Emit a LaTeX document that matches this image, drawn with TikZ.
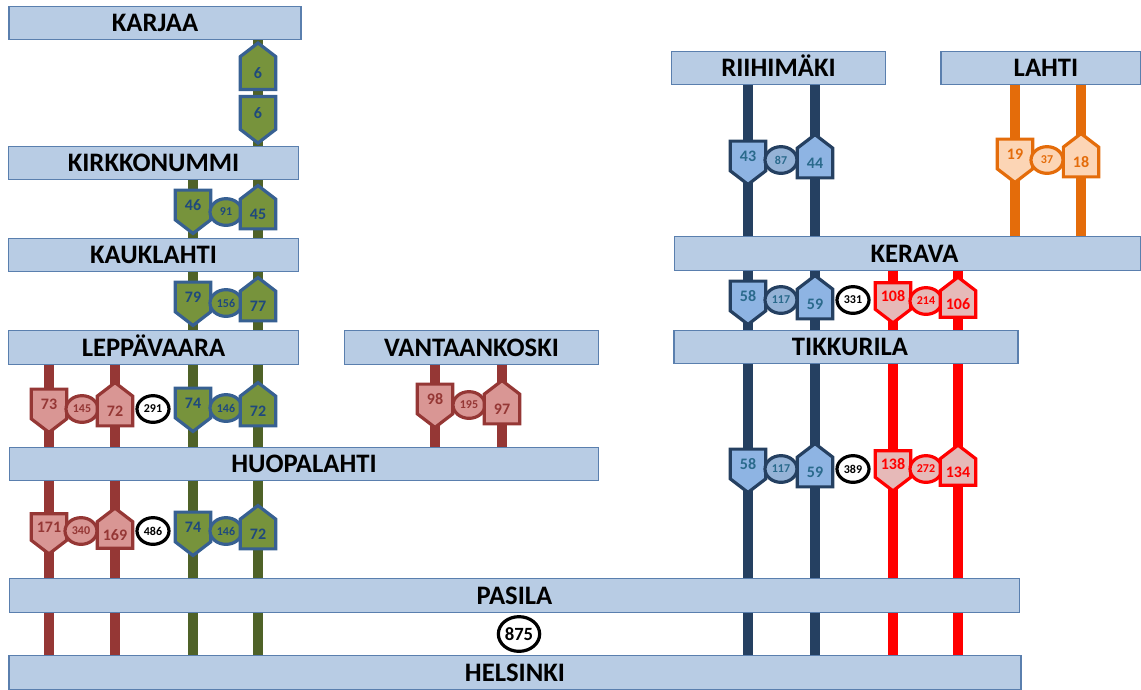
\documentclass[tikz,border=0pt]{standalone}
\usepackage{fontspec}
\setmainfont{Carlito}
\usetikzlibrary{shapes.symbols}
\usetikzlibrary{shapes.geometric}
\definecolor{boxfill}{HTML}{B8CCE4}
\definecolor{boxline}{HTML}{5A7FAE}
\definecolor{greenline}{HTML}{4F6228}
\definecolor{greenfill}{HTML}{77933C}
\definecolor{greenedge}{HTML}{376092}
\definecolor{greentext}{HTML}{1F497D}
\definecolor{wineline}{HTML}{953735}
\definecolor{winefill}{HTML}{D99694}
\definecolor{navyline}{HTML}{254061}
\definecolor{navyfill}{HTML}{8EB4E3}
\definecolor{navycirc}{HTML}{95B3D7}
\definecolor{navytext}{HTML}{2A6A8C}
\definecolor{redfill}{HTML}{E6B9B8}
\definecolor{orangeline}{HTML}{E46C0A}
\definecolor{orangefill}{HTML}{FCD5B5}
\tikzset{
  x=0.75pt, y=-0.75pt,
  station/.style ={draw=boxline,fill=boxfill,line width=0.8pt,inner sep=0,
                   text height=13pt,text depth=0pt,minimum height=25pt,
                   font=\fontsize{20}{20}\selectfont\bfseries},
  track/.style ={line width=7pt,draw=#1},
  downsign/.style ={signal,signal to=south,signal from=nowhere,signal pointer angle=105,
                    inner sep=0,minimum width=26.5pt,minimum height=27pt,line width=2.4pt,
                    font=\fontsize{12}{12}\selectfont\bfseries},
  upsign/.style ={downsign,signal to=north},
  sumcirc/.style ={ellipse,inner sep=0,minimum width=24pt,minimum height=20pt,line width=2.4pt,
                   font=\fontsize{9}{9}\selectfont\bfseries},
  total/.style ={sumcirc,draw=black,fill=white,text=black},
  greenset/.style ={draw=greenedge,fill=greenfill,text=greentext},
  wineset/.style ={draw=wineline,fill=winefill,text=wineline},
  navyset/.style ={draw=navyline,fill=navyfill,text=navytext},
  navyround/.style ={draw=navyline,fill=navycirc,text=navytext},
  redset/.style ={draw=red,fill=redfill,text=red},
  orangeset/.style ={draw=orangeline,fill=orangefill,text=orangeline},
}
\begin{document}
\begin{tikzpicture}
    \useasboundingbox (0,0) rectangle (1141,689);
    % stations
    \node[station,minimum width=219pt] (karjaa) at (155,23) {KARJAA};
    \node[station,minimum width=217pt] (kirkko) at (153.5,163) {KIRKKONUMMI};
    \node[station,minimum width=217pt] (kauk) at (153.5,255) {KAUKLAHTI};
    \node[station,minimum width=217pt] (lepp) at (153.5,347.5) {LEPPÄVAARA};
    \node[station,minimum width=191pt] (vantaa) at (471.5,347.5) {VANTAANKOSKI};
    \node[station,minimum width=442pt] (huopa) at (304,464) {HUOPALAHTI};
    \node[station,minimum width=758pt] (pasila) at (514.5,595.5) {PASILA};
    \node[station,minimum width=759pt] (hki) at (515,672.5) {HELSINKI};
    \node[station,minimum width=160pt] (riihi) at (778.5,68) {RIIHIMÄKI};
    \node[station,minimum width=150pt] (lahti) at (1041,68) {\hspace{7.5pt}LAHTI};
    \node[station,minimum width=350pt] (kerava) at (907.5,253.5) {\hspace{10.5pt}KERAVA};
    \node[station,minimum width=258pt] (tikku) at (846,347) {\hspace{6pt}TIKKURILA};
    % tracks
    \foreach \xx/\from/\to/\col in {258/karjaa/kirkko/greenline,
        193/kirkko/kauk/greenline,258/kirkko/kauk/greenline,
        193/kauk/lepp/greenline,258/kauk/lepp/greenline,
        193/lepp/huopa/greenline,258/lepp/huopa/greenline,
        193/huopa/pasila/greenline,258/huopa/pasila/greenline,
        193/pasila/hki/greenline,258/pasila/hki/greenline,
        49/lepp/huopa/wineline,115/lepp/huopa/wineline,
        49/huopa/pasila/wineline,115/huopa/pasila/wineline,
        49/pasila/hki/wineline,115/pasila/hki/wineline,
        435/vantaa/huopa/wineline,502/vantaa/huopa/wineline,
        748/riihi/kerava/navyline,815/riihi/kerava/navyline,
        748/kerava/tikku/navyline,815/kerava/tikku/navyline,
        748/tikku/pasila/navyline,815/tikku/pasila/navyline,
        748/pasila/hki/navyline,815/pasila/hki/navyline,
        1015/lahti/kerava/orangeline,1081/lahti/kerava/orangeline,
        893/kerava/tikku/red,958/kerava/tikku/red,
        893/tikku/pasila/red,958/tikku/pasila/red,
        893/pasila/hki/red,958/pasila/hki/red}
      \draw[track=\col] (\xx,0 |- \from.south) -- (\xx,0 |- \to.north);
    % green line
    \node[upsign,greenset] (ga) at (258,73) {6};
    \node[downsign,greenset] (gb) at (258,113) {6};
    \node[downsign,greenset] (gc) at (193,205) {46};
    \node[sumcirc,greenset] (gd) at (226,212) {91};
    \node[upsign,greenset] (ge) at (258,214) {45};
    \node[downsign,greenset] (gf) at (193,297) {79};
    \node[sumcirc,greenset] (gg) at (226,303) {156};
    \node[upsign,greenset] (gh) at (258,306) {77};
    \node[downsign,greenset] (gi) at (193,403) {74};
    \node[sumcirc,greenset] (gj) at (226,408) {146};
    \node[upsign,greenset] (gk) at (258,411) {72};
    \node[downsign,greenset] (gl) at (193,527) {74};
    \node[sumcirc,greenset] (gm) at (226,531) {146};
    \node[upsign,greenset] (gn) at (258,534) {72};
    % wine line
    \node[downsign,wineset] (wa) at (49,404) {73};
    \node[sumcirc,wineset] (wb) at (82,409) {145};
    \node[upsign,wineset] (wc) at (115,411) {72};
    \node[total] (wd) at (153,409) {291};
    \node[downsign,wineset] (we) at (49,527) {171};
    \node[sumcirc,wineset] (wf) at (81,531) {340};
    \node[upsign,wineset] (wg) at (115,535) {169};
    \node[total] (wh) at (153,531) {486};
    \node[downsign,wineset] (wi) at (435,399) {98};
    \node[sumcirc,wineset] (wj) at (469,405) {195};
    \node[upsign,wineset] (wk) at (502,409) {97};
    % navy line
    \node[downsign,navyset] (na) at (748,156) {43};
    \node[sumcirc,navyround] (nb) at (781,160) {87};
    \node[upsign,navyset] (nc) at (815,163) {44};
    \node[downsign,navyset] (nd) at (748,296) {58};
    \node[sumcirc,navyround] (ne) at (781,300) {117};
    \node[upsign,navyset] (nf) at (815,304) {59};
    \node[total] (ng) at (853,300) {331};
    \node[downsign,navyset] (nh) at (748,464) {58};
    \node[sumcirc,navyround] (ni) at (781,469) {117};
    \node[upsign,navyset] (nj) at (815,472) {59};
    \node[total] (nk) at (853,469) {389};
    % red line
    \node[downsign,redset] (ra) at (893,296) {108};
    \node[sumcirc,redset] (rb) at (926,301) {214};
    \node[upsign,redset] (rc) at (958,304) {106};
    \node[downsign,redset] (rd) at (893,464) {138};
    \node[sumcirc,redset] (re) at (926,469) {272};
    \node[upsign,redset] (rf) at (958,472) {134};
    % orange line
    \node[downsign,orangeset] (oa) at (1015,154) {19};
    \node[sumcirc,orangeset] (ob) at (1047,160) {37};
    \node[upsign,orangeset] (oc) at (1081,162) {18};
    % grand total
    \node[total,minimum width=31pt,minimum height=26pt,font=\fontsize{14}{14}\selectfont\bfseries] (all) at (519,634) {875};
\end{tikzpicture}
\end{document}
